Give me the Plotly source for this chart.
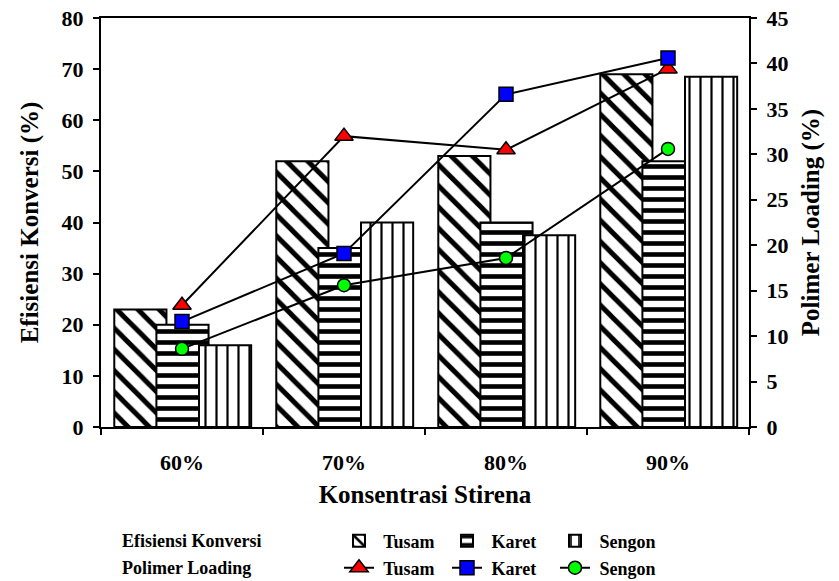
import plotly.graph_objects as go

categories = ["60%", "70%", "80%", "90%"]

# Efisiensi Konversi (%) - bars, left axis
ek_tusam = [23, 52, 53, 69]
ek_karet = [20, 35, 40, 52]
ek_sengon = [16, 40, 37.5, 68.5]

# Polimer Loading (%) - lines, right axis
pl_tusam = [13.4, 32.0, 30.5, 39.4]
pl_karet = [11.6, 19.1, 36.6, 40.6]
pl_sengon = [8.6, 15.6, 18.6, 30.6]

FONT = "Liberation Serif"

fig = go.Figure()

bar_specs = [
    ("Tusam", ek_tusam, "\\", 15, 0.33, -0.418),
    ("Karet", ek_karet, "-", 11, 0.42, -0.158),
    ("Sengon", ek_sengon, "|", 11, 0.2, 0.105),
]
for name, vals, shape, size, sol, off in bar_specs:
    fig.add_trace(go.Bar(
        x=categories, y=vals, name=f"<b> {name}</b>",
        width=0.322, offset=off,
        marker=dict(color="white",
                    line=dict(color="black", width=2),
                    pattern=dict(shape=shape, fgcolor="black", bgcolor="white",
                                 size=size, solidity=sol, fgopacity=1)),
        legend="legend", yaxis="y",
    ))

line_specs = [
    ("Tusam", pl_tusam, "triangle-up", "#ff0000", 16),
    ("Karet", pl_karet, "square", "#0000ff", 14),
    ("Sengon", pl_sengon, "circle", "#00ff00", 13),
]
for name, vals, sym, col, ms in line_specs:
    fig.add_trace(go.Scatter(
        x=categories, y=vals, name=f"<b> {name}</b>", mode="lines+markers",
        line=dict(color="black", width=2),
        marker=dict(symbol=sym, color=col, size=ms,
                    line=dict(color="black", width=1.5)),
        legend="legend2", yaxis="y2",
    ))

tickfont = dict(family=FONT, size=22, color="black", weight="bold")
titlefont = dict(family=FONT, size=25, color="black", weight="bold")
legfont = dict(family=FONT, size=18, color="black")

fig.update_layout(
    width=839, height=581,
    margin=dict(l=101, r=90, t=18, b=154, autoexpand=False),
    paper_bgcolor="white", plot_bgcolor="white",
    barmode="overlay",
    font=dict(family=FONT, color="black"),
    xaxis=dict(
        range=[-0.5, 3.5], showgrid=False, automargin=False,
        showline=True, linecolor="black", linewidth=2, mirror=True,
        ticks="outside", tickson="boundaries", ticklen=6, tickwidth=2, tickcolor="black",
        tickfont=tickfont, ticklabelstandoff=15,
        title=dict(text="Konsentrasi Stirena", font=titlefont, standoff=11),
    ),
    yaxis=dict(
        range=[0, 80], dtick=10, showgrid=False, zeroline=False, automargin=False,
        showline=True, linecolor="black", linewidth=2,
        ticks="outside", ticklen=6, tickwidth=2, tickcolor="black",
        tickfont=tickfont, ticklabelstandoff=5,
        title=dict(text="Efisiensi Konversi (%)", font=titlefont, standoff=16),
    ),
    yaxis2=dict(
        range=[0, 45], dtick=5, showgrid=False, zeroline=False, automargin=False,
        overlaying="y", side="right",
        showline=True, linecolor="black", linewidth=2,
        ticks="outside", ticklen=6, tickwidth=2, tickcolor="black",
        tickfont=tickfont, ticklabelstandoff=5,
        title=dict(text="Polimer Loading (%)", font=titlefont, standoff=14),
    ),
    legend=dict(
        orientation="h", xref="container", yref="container",
        x=339 / 839, xanchor="left", y=1 - 541 / 581, yanchor="middle",
        font=legfont, entrywidth=63, itemwidth=30,
        bgcolor="rgba(0,0,0,0)", borderwidth=0,
    ),
    legend2=dict(
        orientation="h", xref="container", yref="container",
        x=339 / 839, xanchor="left", y=1 - 568 / 581, yanchor="middle",
        font=legfont, entrywidth=63, itemwidth=30,
        bgcolor="rgba(0,0,0,0)", borderwidth=0,
    ),
    annotations=[
        dict(text="<b>Efisiensi Konversi</b>", xref="paper", yref="paper",
             x=(120 - 101) / 648, y=(427 - 541) / 409, xanchor="left", yanchor="middle",
             showarrow=False, font=legfont),
        dict(text="<b>Polimer Loading</b>", xref="paper", yref="paper",
             x=(120 - 101) / 648, y=(427 - 568) / 409, xanchor="left", yanchor="middle",
             showarrow=False, font=legfont),
    ],
)

fig.write_html(
    "out.html",
    config={"displayModeBar": False},
    post_script="document.body.style.margin='0';document.body.style.padding='0';",
)
